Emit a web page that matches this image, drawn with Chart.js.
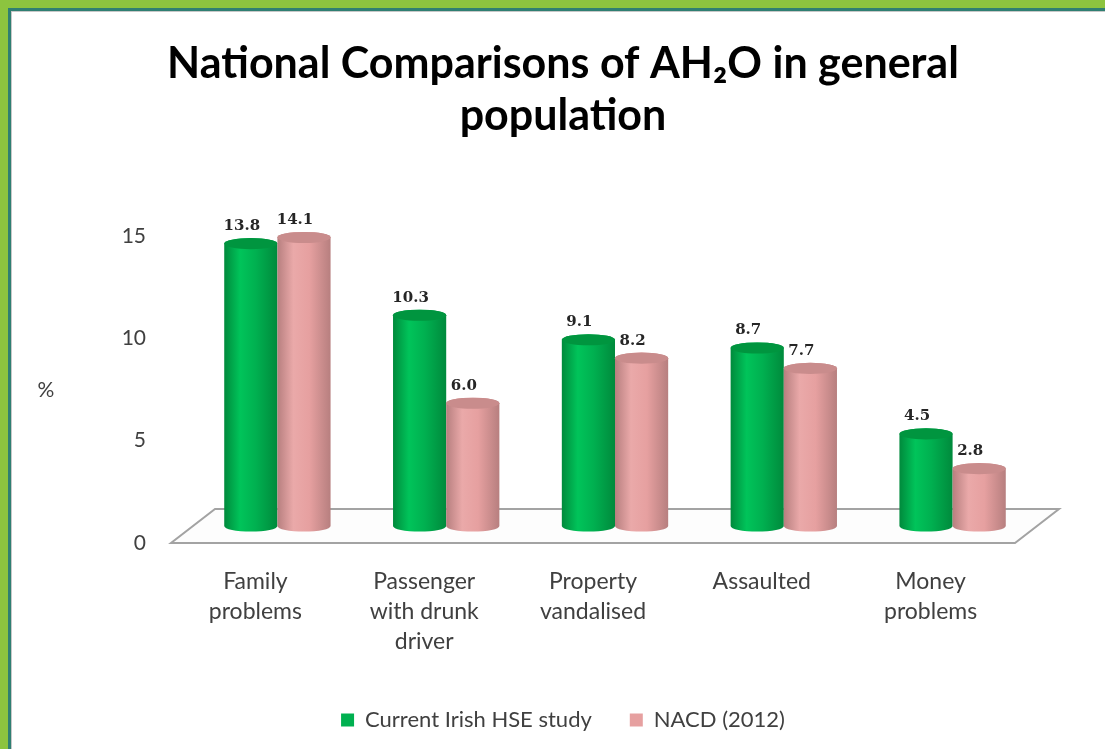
<!DOCTYPE html>
<html>
<head>
<meta charset="utf-8">
<script src="https://cdn.jsdelivr.net/npm/chart.js@4/dist/chart.umd.min.js"></script>
<style>
  html, body { margin: 0; padding: 0; background: #fff; }
  #wrap { position: relative; width: 1105px; height: 749px; overflow: hidden; }
  #c { position: absolute; left: 0; top: 0; }
  .edge { position: absolute; }
</style>
</head>
<body>
<div id="wrap">
  <canvas id="c" width="1105" height="749"></canvas>
  <div class="edge" style="left:0;top:0;width:1105px;height:8px;background:#8cc43f"></div>
  <div class="edge" style="left:0;top:0;width:8px;height:749px;background:#8cc43f"></div>
  <div class="edge" style="left:8px;top:8px;width:1097px;height:3px;background:#2f7f72"></div>
  <div class="edge" style="left:8px;top:8px;width:3px;height:741px;background:#2f7f72"></div>
  <div class="edge" style="left:11px;top:11px;width:1094px;height:1px;background:#c8c8c8"></div>
  <div class="edge" style="left:11px;top:11px;width:1px;height:738px;background:#c8c8c8"></div>
</div>
<script>
const categories = [
  ["Family", "problems"],
  ["Passenger", "with drunk", "driver"],
  ["Property", "vandalised"],
  ["Assaulted"],
  ["Money", "problems"],
];
const hseStudy = [13.8, 10.3, 9.1, 8.7, 4.5];
const nacd2012 = [14.1, 6.0, 8.2, 7.7, 2.8];
const seriesNames = ["Current Irish HSE study", "NACD (2012)"];
const yTicks = [0, 5, 10, 15];

const shades = [
  { base: "#00b050", dark: "#008a3c", light: "#00c45a", top: "#00953f" },
  { base: "#e6a0a0", dark: "#b77f7f", light: "#eaa9a9", top: "#c98c8c" },
];

// depth of the bars inside the 3D floor
const DX = 22, DY = -17;
const FLOOR_DX = 44, FLOOR_DY = -34;

function cylinder(ctx, cx, yTop, yBase, w, s) {
  const rx = w / 2, ry = w * 0.105;
  const g = ctx.createLinearGradient(cx - rx, 0, cx + rx, 0);
  g.addColorStop(0, s.dark);
  g.addColorStop(0.3, s.light);
  g.addColorStop(0.6, s.base);
  g.addColorStop(1, s.dark);
  ctx.beginPath();
  ctx.moveTo(cx - rx, yTop);
  ctx.lineTo(cx - rx, yBase);
  ctx.ellipse(cx, yBase, rx, ry, 0, Math.PI, 0, true);
  ctx.lineTo(cx + rx, yTop);
  ctx.ellipse(cx, yTop, rx, ry, 0, 0, Math.PI, true);
  ctx.closePath();
  ctx.fillStyle = g;
  ctx.fill();
  ctx.beginPath();
  ctx.ellipse(cx, yTop, rx, ry, 0, 0, Math.PI * 2);
  ctx.fillStyle = s.top;
  ctx.fill();
}

const bars3d = {
  id: "bars3d",
  beforeDatasetsDraw(chart) {
    const ctx = chart.ctx;
    const area = chart.chartArea;
    const y0 = chart.scales.y.getPixelForValue(0);

    // floor
    ctx.save();
    ctx.beginPath();
    ctx.moveTo(area.left, y0);
    ctx.lineTo(area.right, y0);
    ctx.lineTo(area.right + FLOOR_DX, y0 + FLOOR_DY);
    ctx.lineTo(area.left + FLOOR_DX, y0 + FLOOR_DY);
    ctx.closePath();
    ctx.fillStyle = "#fdfdfd";
    ctx.fill();
    ctx.strokeStyle = "#a3a3a3";
    ctx.lineWidth = 2;
    ctx.stroke();

    const metas = chart.data.datasets.map((d, i) => chart.getDatasetMeta(i));
    for (let j = 0; j < categories.length; j++) {
      metas.forEach((meta, i) => {
        const el = meta.data[j];
        const cx = el.x + DX;
        cylinder(ctx, cx, el.y + DY, el.base + DY, el.width, shades[i]);
      });
    }

    // value labels
    ctx.font = "bold 15px 'DejaVu Serif'";
    ctx.fillStyle = "#262626";
    ctx.textAlign = "center";
    ctx.textBaseline = "middle";
    metas.forEach((meta, i) => {
      const vals = chart.data.datasets[i].data;
      meta.data.forEach((el, j) => {
        ctx.fillText(vals[j].toFixed(1), el.x + DX - 9, el.y + DY - el.width * 0.105 - 12);
      });
    });

    // axis title, written horizontally
    ctx.font = "21px Lato";
    ctx.fillStyle = "#404040";
    ctx.fillText("%", 46, 390);
    ctx.restore();
    return false;
  },
};

new Chart(document.getElementById("c"), {
  type: "bar",
  data: {
    labels: categories,
    datasets: [
      { label: seriesNames[0], data: hseStudy, backgroundColor: shades[0].base, borderWidth: 0 },
      { label: seriesNames[1], data: nacd2012, backgroundColor: shades[1].base, borderWidth: 0 },
    ],
  },
  options: {
    responsive: false,
    animation: false,
    categoryPercentage: 0.63,
    barPercentage: 1,
    layout: { padding: { left: 111, right: 90, top: 0, bottom: 8 } },
    scales: {
      x: {
        grid: { display: false, drawTicks: false },
        border: { display: false },
        ticks: {
          color: "#404040",
          font: { family: "Lato", size: 23, lineHeight: 1.3 },
          padding: 24,
          maxRotation: 0,
          autoSkip: false,
        },
        afterFit(scale) { scale.height = 128; },
      },
      y: {
        min: 0,
        max: 15,
        grid: { display: false, drawTicks: false },
        border: { display: false },
        afterBuildTicks(scale) { scale.ticks = yTicks.map((v) => ({ value: v })); },
        ticks: {
          color: "#404040",
          font: { family: "Lato", size: 21 },
          padding: 25,
        },
        afterFit(scale) { scale.width = 60; },
      },
    },
    plugins: {
      title: {
        display: true,
        text: ["National Comparisons of AH\u2082O in general", "population"],
        color: "#000",
        font: { family: "Lato", size: 43, weight: "bold", lineHeight: 1.21 },
        padding: { top: 38, bottom: 94 },
      },
      legend: {
        position: "bottom",
        labels: {
          boxWidth: 13,
          boxHeight: 13,
          padding: 38,
          color: "#404040",
          font: { family: "Lato", size: 22 },
        },
      },
      tooltip: { enabled: false },
    },
  },
  plugins: [bars3d],
});
</script>
</body>
</html>
